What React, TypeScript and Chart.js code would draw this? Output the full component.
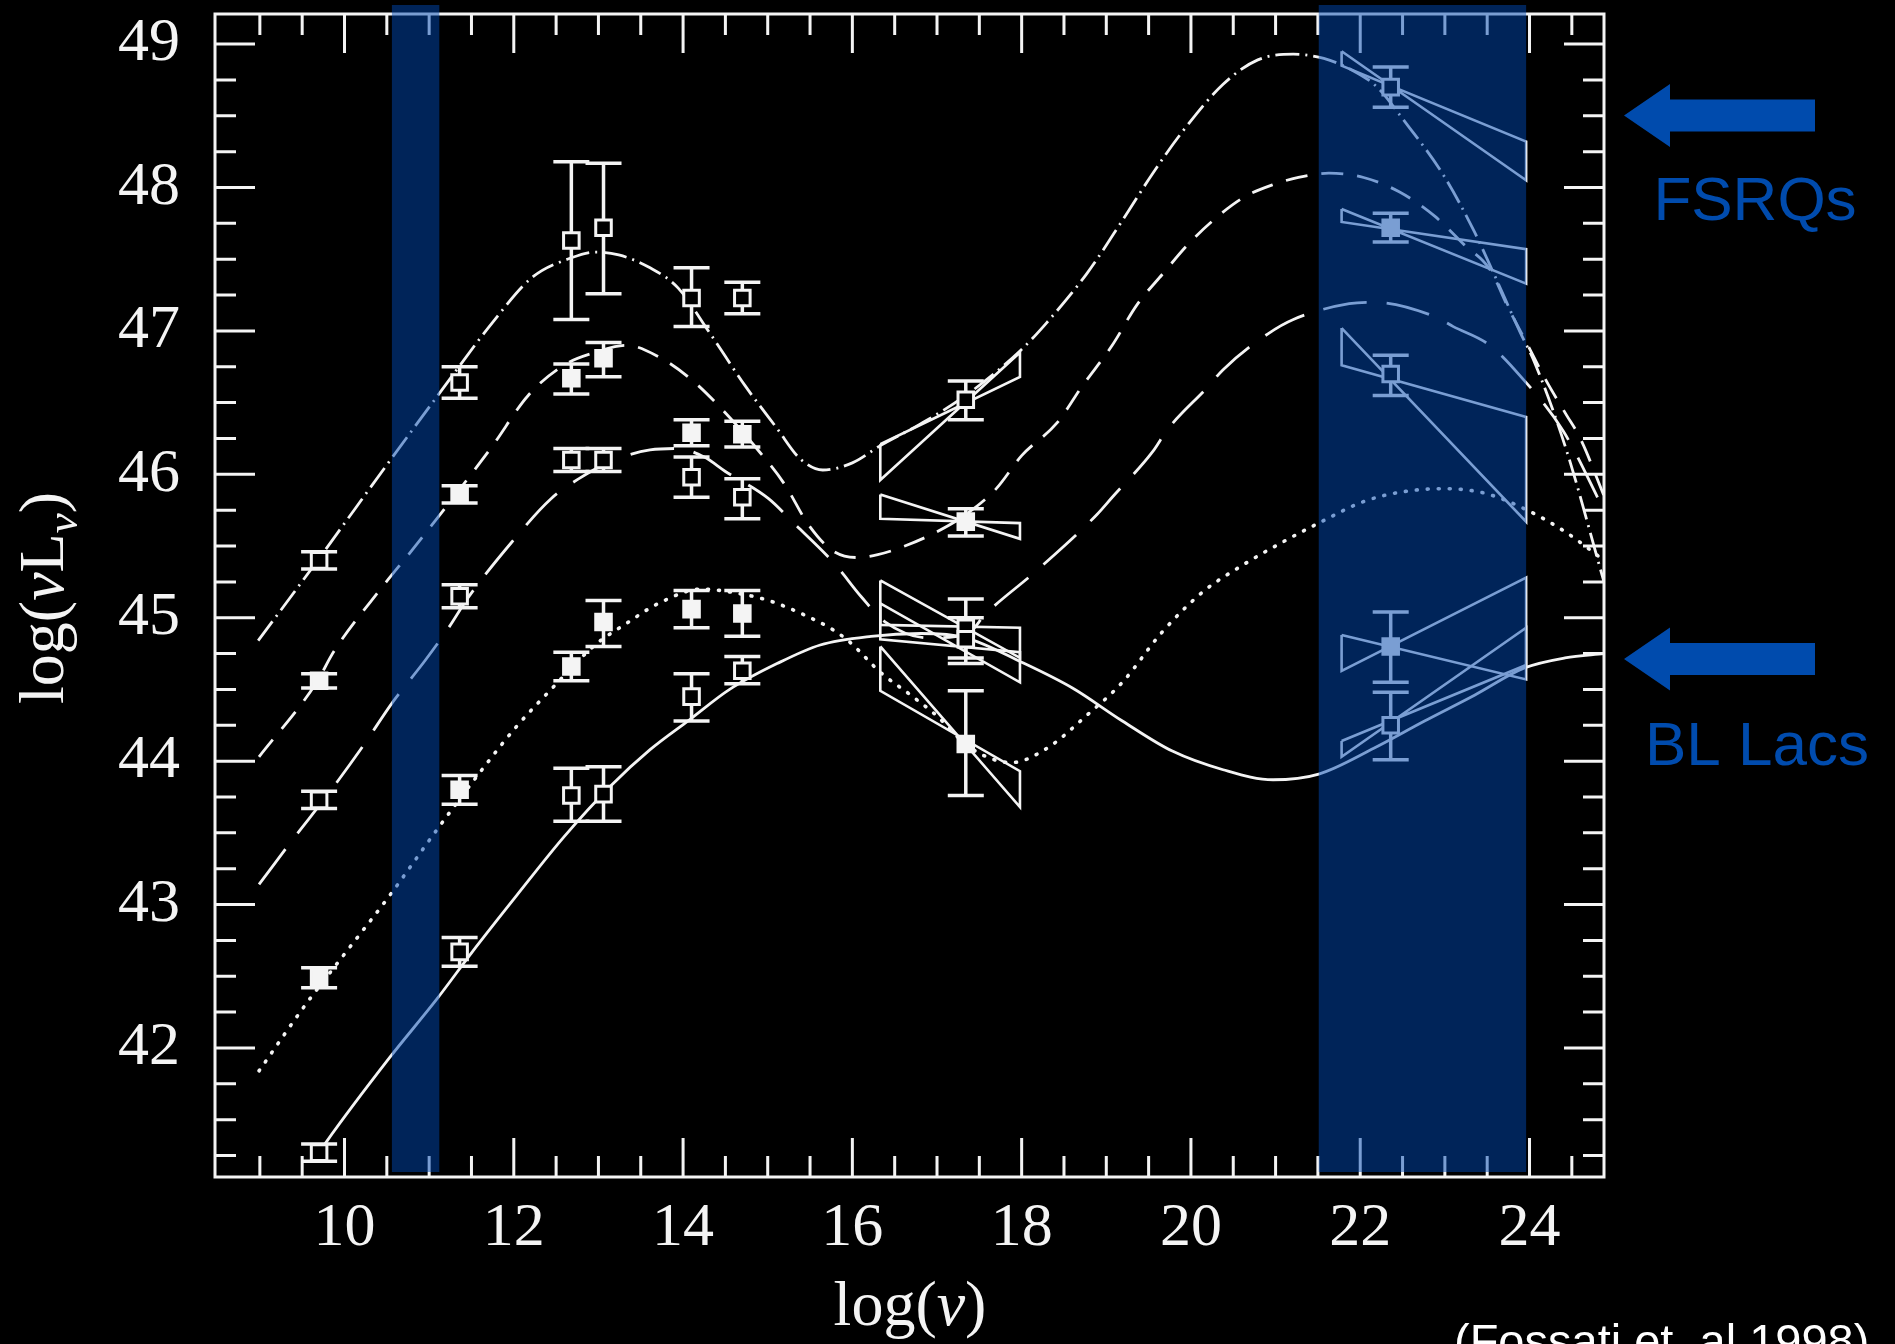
import React, { useEffect, useRef } from 'react';
import { Chart, registerables } from 'chart.js';

Chart.register(...registerables);

const W = 1895;
const H = 1344;

// ---------------- data ----------------
// log(nu) of the averaged SED points: 5 GHz, 230 GHz, 60um, 25um, K, V, 1 keV, 100 MeV
const nuPoints = [9.70, 11.36, 12.68, 13.06, 14.10, 14.70, 17.34, 22.36];

const bin1Lum = [45.40, 46.64, 47.63, 47.72, 47.23, 47.23, 46.52, 48.70];
const bin1Low = [45.34, 46.53, 47.08, 47.26, 47.03, 47.12, 46.38, 48.56];
const bin1High = [45.46, 46.75, 48.18, 48.17, 47.44, 47.34, 46.65, 48.84];

const bin2Lum = [44.56, 45.86, 46.67, 46.81, 46.29, 46.28, 45.67, 47.72];
const bin2Low = [44.51, 45.80, 46.56, 46.68, 46.20, 46.19, 45.57, 47.62];
const bin2High = [44.61, 45.92, 46.77, 46.92, 46.38, 46.37, 45.76, 47.82];

const bin3Lum = [43.73, 45.15, 46.10, 46.10, 45.98, 45.84, 44.85, 46.70];
const bin3Low = [43.67, 45.07, 46.02, 46.02, 45.84, 45.69, 44.72, 46.55];
const bin3High = [43.79, 45.23, 46.18, 46.18, 46.12, 45.97, 45.00, 46.83];

const bin4Lum = [42.49, 43.80, 44.66, 44.97, 45.06, 45.03, 44.12, 44.80];
const bin4Low = [42.42, 43.70, 44.56, 44.80, 44.93, 44.87, 43.76, 44.55];
const bin4High = [42.56, 43.90, 44.76, 45.12, 45.19, 45.19, 44.49, 45.04];

const bin5Lum = [41.27, 42.67, 43.76, 43.77, 44.45, 44.63, 44.93, 44.25];
const bin5Low = [41.21, 42.57, 43.58, 43.58, 44.28, 44.54, 44.68, 44.01];
const bin5High = [41.33, 42.77, 43.95, 43.96, 44.61, 44.73, 45.13, 44.48];

// model curves
const curve1X = [8.98, 9.67, 10.53, 11.14, 11.75, 12.21, 12.68, 12.96, 13.24, 13.61, 13.94, 14.31, 14.73, 15.11, 15.38, 15.65, 16.0, 16.33, 16.8, 17.34, 17.98, 18.30, 18.77, 19.19, 19.55, 19.90, 20.38, 20.79, 21.21, 21.57, 21.9, 22.2, 22.5, 22.99, 23.35, 23.57, 23.89, 24.06, 24.43, 24.88];
const curve1Y = [44.84, 45.39, 46.09, 46.58, 47.06, 47.37, 47.51, 47.55, 47.53, 47.44, 47.30, 46.99, 46.62, 46.32, 46.11, 46.03, 46.08, 46.20, 46.35, 46.55, 46.86, 47.06, 47.40, 47.77, 48.10, 48.39, 48.72, 48.89, 48.93, 48.90, 48.82, 48.70, 48.48, 48.08, 47.69, 47.41, 46.99, 46.78, 46.18, 45.25];

const curve2X = [8.99, 9.66, 9.88, 10.44, 10.81, 11.34, 11.75, 12.17, 12.59, 12.96, 13.33, 13.71, 14.08, 14.45, 14.87, 15.20, 15.48, 15.76, 16.05, 16.3, 16.62, 17.0, 17.34, 17.7, 18.0, 18.42, 18.71, 19.07, 19.36, 19.67, 19.96, 20.26, 20.62, 20.97, 21.27, 21.63, 22.04, 22.46, 22.88, 23.23, 23.53, 23.75, 23.98, 24.2, 24.43, 24.6, 24.88];
const curve2Y = [44.03, 44.54, 44.77, 45.21, 45.48, 45.88, 46.20, 46.55, 46.76, 46.85, 46.90, 46.82, 46.67, 46.46, 46.18, 45.93, 45.65, 45.47, 45.42, 45.44, 45.50, 45.60, 45.72, 45.90, 46.13, 46.36, 46.61, 46.90, 47.18, 47.40, 47.60, 47.77, 47.93, 48.02, 48.07, 48.10, 48.07, 47.97, 47.80, 47.60, 47.43, 47.16, 46.90, 46.65, 46.42, 46.25, 45.85];

const curve3X = [8.99, 9.41, 9.78, 10.20, 10.58, 10.95, 11.23, 11.46, 11.98, 12.44, 12.77, 13.15, 13.61, 13.94, 14.25, 14.50, 15.01, 15.29, 15.80, 16.1, 16.39, 16.9, 17.34, 17.58, 18.18, 18.89, 19.07, 19.55, 19.72, 20.20, 20.38, 20.91, 21.21, 21.87, 22.16, 22.88, 23.10, 23.53, 23.9, 24.4, 24.88];
const curve3Y = [43.14, 43.47, 43.75, 44.09, 44.42, 44.70, 44.93, 45.14, 45.53, 45.83, 45.97, 46.09, 46.17, 46.18, 46.12, 46.02, 45.83, 45.67, 45.37, 45.15, 44.97, 44.86, 44.88, 45.03, 45.33, 45.72, 45.84, 46.16, 46.31, 46.61, 46.73, 46.98, 47.08, 47.19, 47.20, 47.10, 47.03, 46.90, 46.68, 46.30, 45.75];

const curve4X = [8.99, 9.55, 10.02, 10.53, 11.09, 11.65, 12.03, 12.44, 12.96, 13.33, 13.71, 14.22, 14.55, 15.01, 15.43, 15.76, 15.97, 16.33, 16.69, 16.99, 17.40, 17.88, 18.30, 18.77, 19.19, 19.66, 20.14, 20.62, 21.09, 21.51, 22.04, 22.52, 22.99, 23.46, 23.94, 24.42, 24.88];
const curve4Y = [41.84, 42.31, 42.67, 43.06, 43.52, 43.96, 44.24, 44.50, 44.81, 44.96, 45.10, 45.20, 45.18, 45.12, 45.02, 44.92, 44.83, 44.62, 44.46, 44.32, 44.09, 43.99, 44.09, 44.32, 44.55, 44.90, 45.18, 45.37, 45.53, 45.66, 45.81, 45.88, 45.90, 45.87, 45.76, 45.60, 45.40];

const curve5X = [9.70, 9.78, 10.53, 11.09, 11.51, 12.03, 12.59, 13.15, 13.61, 14.08, 14.55, 15.11, 15.62, 16.22, 16.81, 17.34, 18.0, 18.60, 19.19, 19.78, 20.38, 20.97, 21.51, 22.16, 22.76, 23.35, 23.94, 24.42, 24.88];
const curve5Y = [41.27, 41.34, 41.93, 42.34, 42.67, 43.06, 43.47, 43.83, 44.08, 44.29, 44.50, 44.68, 44.81, 44.87, 44.89, 44.86, 44.69, 44.51, 44.28, 44.07, 43.94, 43.87, 43.91, 44.09, 44.28, 44.46, 44.65, 44.72, 44.75];

// bow-ties (X-ray and gamma-ray spectral ranges)
const xrayEdges = [16.33, 17.98];
const xrayLeftTop = [46.21, 45.86, 45.26, 44.80, 45.10];
const xrayLeftBottom = [45.96, 45.69, 44.95, 44.49, 44.85];
const xrayRightTop = [46.85, 45.66, 44.93, 43.93, 44.76];
const xrayRightBottom = [46.68, 45.55, 44.72, 43.68, 44.55];

const gammaEdges = [21.78, 23.96];
const gammaLeftTop = [48.95, 47.85, 47.02, 44.88, 44.14];
const gammaLeftBottom = [48.85, 47.76, 46.76, 44.63, 44.03];
const gammaRightTop = [48.32, 47.57, 46.40, 45.28, 44.93];
const gammaRightBottom = [48.05, 47.33, 45.67, 44.57, 44.67];

// highlighted frequency bands
const bandStarts = [10.56, 21.51];
const bandEnds = [11.12, 23.96];

// axes
const xMin = 8.47;
const xMax = 24.88;
const yMin = 41.1;
const yMax = 49.21;
const xTickValues = [10, 12, 14, 16, 18, 20, 22, 24];
const yTickValues = [42, 43, 44, 45, 46, 47, 48, 49];

// ---------------- helpers ----------------
const WHITE = '#f4f4f4';
const BLUE = '#004bad';

const toPts = (xs: number[], ys: number[]) => xs.map((x, i) => ({ x, y: ys[i] }));

const bowtie = (edges: number[], lt: number, lb: number, rt: number, rb: number) => [
  { x: edges[0], y: lt },
  { x: edges[1], y: rb },
  { x: edges[1], y: rt },
  { x: edges[0], y: lb },
  { x: edges[0], y: lt },
];

const bins = [
  { lum: bin1Lum, lo: bin1Low, hi: bin1High, filled: false },
  { lum: bin2Lum, lo: bin2Low, hi: bin2High, filled: true },
  { lum: bin3Lum, lo: bin3Low, hi: bin3High, filled: false },
  { lum: bin4Lum, lo: bin4Low, hi: bin4High, filled: true },
  { lum: bin5Lum, lo: bin5Low, hi: bin5High, filled: false },
];

const drawRich = (
  ctx: CanvasRenderingContext2D,
  parts: { t: string; italic?: boolean; sub?: boolean }[],
  size: number,
) => {
  const fontFor = (p: { italic?: boolean; sub?: boolean }) =>
    `${p.italic ? 'italic ' : ''}${p.sub ? Math.round(size * 0.7) : size}px "Liberation Serif", serif`;
  let total = 0;
  const widths = parts.map((p) => {
    ctx.font = fontFor(p);
    const w = ctx.measureText(p.t).width;
    total += w;
    return w;
  });
  let x = -total / 2;
  parts.forEach((p, i) => {
    ctx.font = fontFor(p);
    ctx.fillText(p.t, x, p.sub ? size * 0.22 : 0);
    x += widths[i];
  });
};

const decorPlugin = {
  id: 'decor',
  beforeDatasetsDraw(chart: any) {
    const ctx: CanvasRenderingContext2D = chart.ctx;
    const xs = chart.scales.x;
    const ys = chart.scales.y;
    ctx.save();
    ctx.strokeStyle = WHITE;
    ctx.lineWidth = 3.5;
    bins.forEach((b) => {
      nuPoints.forEach((nu, i) => {
        const px = xs.getPixelForValue(nu);
        const p1 = ys.getPixelForValue(b.lo[i]);
        const p2 = ys.getPixelForValue(b.hi[i]);
        ctx.beginPath();
        ctx.moveTo(px, p1);
        ctx.lineTo(px, p2);
        ctx.moveTo(px - 18, p1);
        ctx.lineTo(px + 18, p1);
        ctx.moveTo(px - 18, p2);
        ctx.lineTo(px + 18, p2);
        ctx.stroke();
      });
    });
    ctx.restore();
  },
  afterDatasetsDraw(chart: any) {
    const ctx: CanvasRenderingContext2D = chart.ctx;
    const xs = chart.scales.x;
    const ys = chart.scales.y;
    const { left, right, top, bottom } = chart.chartArea;
    ctx.save();
    ctx.strokeStyle = WHITE;
    ctx.lineWidth = 3;
    ctx.strokeRect(left, top, right - left, bottom - top);
    ctx.beginPath();
    for (let k = 18; k <= 49; k++) {
      const v = k / 2;
      const px = xs.getPixelForValue(v);
      if (px < left + 3 || px > right - 3) continue;
      const len = k % 4 === 0 ? 39 : 21;
      ctx.moveTo(px, bottom);
      ctx.lineTo(px, bottom - len);
      ctx.moveTo(px, top);
      ctx.lineTo(px, top + len);
    }
    for (let k = 165; k <= 196; k++) {
      const v = k / 4;
      const py = ys.getPixelForValue(v);
      if (py < top + 3 || py > bottom - 3) continue;
      const len = k % 4 === 0 ? 40 : 21;
      ctx.moveTo(left, py);
      ctx.lineTo(left + len, py);
      ctx.moveTo(right, py);
      ctx.lineTo(right - len, py);
    }
    ctx.stroke();
    // translucent highlight bands
    ctx.fillStyle = 'rgba(0, 72, 178, 0.5)';
    bandStarts.forEach((s, i) => {
      const x1 = xs.getPixelForValue(s);
      const x2 = xs.getPixelForValue(bandEnds[i]);
      ctx.fillRect(x1, top - 9, x2 - x1, bottom - 5 - (top - 9));
    });
    ctx.restore();
  },
  afterDraw(chart: any) {
    const ctx: CanvasRenderingContext2D = chart.ctx;
    ctx.save();
    ctx.fillStyle = WHITE;
    ctx.textAlign = 'left';
    ctx.textBaseline = 'alphabetic';
    // x title
    ctx.save();
    ctx.translate(910, 1325);
    drawRich(ctx, [{ t: 'log(' }, { t: 'ν', italic: true }, { t: ')' }], 64);
    ctx.restore();
    // y title
    ctx.save();
    ctx.translate(63, 598);
    ctx.rotate(-Math.PI / 2);
    drawRich(
      ctx,
      [{ t: 'log(' }, { t: 'ν', italic: true }, { t: 'L' }, { t: 'ν', italic: true, sub: true }, { t: ')' }],
      64,
    );
    ctx.restore();

    // arrows
    ctx.fillStyle = BLUE;
    const arrow = (cy: number) => {
      ctx.beginPath();
      ctx.moveTo(1624, cy);
      ctx.lineTo(1670, cy - 31.5);
      ctx.lineTo(1670, cy - 16);
      ctx.lineTo(1815, cy - 16);
      ctx.lineTo(1815, cy + 16);
      ctx.lineTo(1670, cy + 16);
      ctx.lineTo(1670, cy + 31.5);
      ctx.closePath();
      ctx.fill();
    };
    arrow(115.5);
    arrow(659);
    ctx.font = '62px "Liberation Sans", Arial, sans-serif';
    ctx.textAlign = 'center';
    ctx.fillText('FSRQs', 1755, 220);
    ctx.fillText('BL Lacs', 1757, 765);
    ctx.fillStyle = '#ffffff';
    ctx.textAlign = 'left';
    ctx.font = '47px "Liberation Sans", Arial, sans-serif';
    ctx.fillText('(Fossati et. al 1998)', 1454, 1357);
    ctx.restore();
  },
};

export default function App() {
  const ref = useRef<HTMLCanvasElement | null>(null);

  useEffect(() => {
    document.body.style.margin = '0';
    document.body.style.background = '#000';
    document.body.style.overflow = 'hidden';
    const canvas = ref.current;
    if (!canvas) return;

    const curveDefs = [
      { xs: curve1X, ys: curve1Y, dash: [24, 6, 2, 6], cap: 'butt' },
      { xs: curve2X, ys: curve2Y, dash: [22, 14], cap: 'butt' },
      { xs: curve3X, ys: curve3Y, dash: [44, 20], cap: 'butt' },
      { xs: curve4X, ys: curve4Y, dash: [1, 10], cap: 'round' },
      { xs: curve5X, ys: curve5Y, dash: [], cap: 'butt' },
    ];

    const datasets: any[] = [];
    bins.forEach((b) => {
      datasets.push({
        data: toPts(nuPoints, b.lum),
        showLine: false,
        pointStyle: 'rect',
        pointRadius: 11,
        pointBorderWidth: 3,
        pointBorderColor: WHITE,
        pointBackgroundColor: b.filled ? WHITE : '#000',
        order: 0,
      });
    });
    curveDefs.forEach((c) => {
      datasets.push({
        data: toPts(c.xs, c.ys),
        showLine: true,
        pointRadius: 0,
        borderColor: WHITE,
        borderWidth: c.cap === 'round' ? 3.6 : 2.8,
        borderDash: c.dash,
        borderCapStyle: c.cap,
        cubicInterpolationMode: 'monotone',
        order: 2,
      });
    });
    for (let k = 0; k < 5; k++) {
      datasets.push({
        data: bowtie(xrayEdges, xrayLeftTop[k], xrayLeftBottom[k], xrayRightTop[k], xrayRightBottom[k]),
        showLine: true,
        pointRadius: 0,
        borderColor: WHITE,
        borderWidth: 2.6,
        tension: 0,
        order: 1,
      });
      datasets.push({
        data: bowtie(gammaEdges, gammaLeftTop[k], gammaLeftBottom[k], gammaRightTop[k], gammaRightBottom[k]),
        showLine: true,
        pointRadius: 0,
        borderColor: WHITE,
        borderWidth: 2.6,
        tension: 0,
        order: 1,
      });
    }

    const tickFont = { family: '"Liberation Serif", serif', size: 62 };
    const chart = new Chart(canvas, {
      type: 'scatter',
      data: { datasets },
      options: {
        responsive: false,
        animation: false,
        devicePixelRatio: 1,
        events: [],
        layout: { padding: { top: 12, right: 291, left: 0, bottom: 0 } },
        plugins: {
          legend: { display: false },
          tooltip: { enabled: false },
          title: { display: false },
        },
        scales: {
          x: {
            type: 'linear',
            position: 'bottom',
            bounds: 'data',
            min: xMin,
            max: xMax,
            grid: { display: false, drawTicks: false },
            border: { display: false },
            ticks: {
              autoSkip: false,
              maxRotation: 0,
              minRotation: 0,
              color: WHITE,
              font: tickFont,
              padding: 15,
              callback: (v: any) => String(v),
            },
            afterBuildTicks: (s: any) => {
              s.ticks = xTickValues.map((v) => ({ value: v }));
            },
            afterFit: (s: any) => {
              s.height = 167;
              s.paddingLeft = 0;
              s.paddingRight = 0;
              s.paddingTop = 0;
              s.paddingBottom = 0;
            },
          },
          y: {
            type: 'linear',
            position: 'left',
            bounds: 'data',
            min: yMin,
            max: yMax,
            grid: { display: false, drawTicks: false },
            border: { display: false },
            ticks: {
              autoSkip: false,
              color: WHITE,
              font: tickFont,
              padding: 35,
              callback: (v: any) => String(v),
            },
            afterBuildTicks: (s: any) => {
              s.ticks = yTickValues.map((v) => ({ value: v }));
            },
            afterFit: (s: any) => {
              s.width = 215;
              s.paddingLeft = 0;
              s.paddingRight = 0;
              s.paddingTop = 0;
              s.paddingBottom = 0;
            },
          },
        },
      } as any,
      plugins: [decorPlugin as any],
    });
    return () => chart.destroy();
  }, []);

  return (
    <div style={{ position: 'absolute', left: 0, top: 0, width: W, height: H, background: '#000', overflow: 'hidden' }}>
      <canvas ref={ref} width={W} height={H} style={{ width: W, height: H, display: 'block' }} />
    </div>
  );
}
